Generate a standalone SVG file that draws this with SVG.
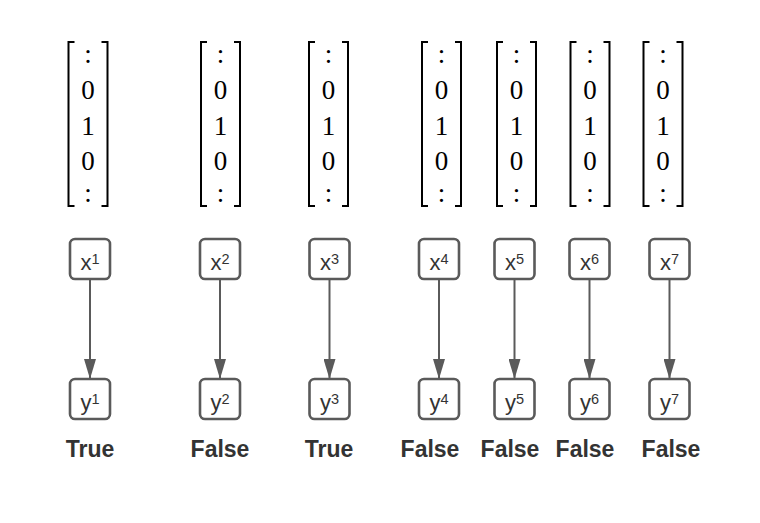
<svg xmlns="http://www.w3.org/2000/svg" width="760" height="523" viewBox="0 0 760 523">
<style>
.br{fill:none;stroke:#000;stroke-width:2}
.mv{font-family:"Liberation Serif",serif;font-size:27px;fill:#000;text-anchor:middle}
.box{fill:#fff;stroke:#5a5a5a;stroke-width:2.6}
.nt{font-family:"Liberation Sans",Arial,sans-serif;font-size:22px;fill:#333333;text-anchor:middle}
.sup{font-size:14.5px}
.lbl{font-family:"Liberation Sans",Arial,sans-serif;font-size:23px;font-weight:bold;fill:#333333;text-anchor:middle}
.edge{stroke:#5a5a5a;stroke-width:2;fill:none}
</style>
<defs>
<marker id="ah" markerUnits="userSpaceOnUse" markerWidth="20" markerHeight="12" refX="20" refY="6" orient="auto" viewBox="0 0 20 12">
<path d="M0,0 L20,6 L0,12 Z" fill="#5a5a5a"/>
</marker>
<g id="mat">
<path class="br" d="M6,42 H0 V206 H6 M33,42 H39 V206 H33"/>
<text class="mv" x="19.5" y="63">:</text>
<text class="mv" x="19.5" y="99">0</text>
<text class="mv" x="19.5" y="135">1</text>
<text class="mv" x="19.5" y="170">0</text>
<text class="mv" x="19.5" y="202">:</text>
</g>
</defs>
<g id="matrices">
<use href="#mat" x="68.5" y="0"/>
<use href="#mat" x="201" y="0"/>
<use href="#mat" x="309" y="0"/>
<use href="#mat" x="422" y="0"/>
<use href="#mat" x="497" y="0"/>
<use href="#mat" x="570.5" y="0"/>
<use href="#mat" x="643.5" y="0"/>
</g>
<g id="connectors">
<line class="edge" x1="90" y1="280" x2="90" y2="379" marker-end="url(#ah)"/>
<line class="edge" x1="220" y1="280" x2="220" y2="379" marker-end="url(#ah)"/>
<line class="edge" x1="329.5" y1="280" x2="329.5" y2="379" marker-end="url(#ah)"/>
<line class="edge" x1="439" y1="280" x2="439" y2="379" marker-end="url(#ah)"/>
<line class="edge" x1="514.5" y1="280" x2="514.5" y2="379" marker-end="url(#ah)"/>
<line class="edge" x1="589.5" y1="280" x2="589.5" y2="379" marker-end="url(#ah)"/>
<line class="edge" x1="669.5" y1="280" x2="669.5" y2="379" marker-end="url(#ah)"/>
</g>
<g id="x1"><rect class="box" x="70" y="239" width="40" height="40" rx="5"/><text class="nt" x="90" y="270">x<tspan class="sup" dy="-6">1</tspan></text></g>
<g id="x2"><rect class="box" x="200" y="239" width="40" height="40" rx="5"/><text class="nt" x="220" y="270">x<tspan class="sup" dy="-6">2</tspan></text></g>
<g id="x3"><rect class="box" x="309.5" y="239" width="40" height="40" rx="5"/><text class="nt" x="329.5" y="270">x<tspan class="sup" dy="-6">3</tspan></text></g>
<g id="x4"><rect class="box" x="419" y="239" width="40" height="40" rx="5"/><text class="nt" x="439" y="270">x<tspan class="sup" dy="-6">4</tspan></text></g>
<g id="x5"><rect class="box" x="494.5" y="239" width="40" height="40" rx="5"/><text class="nt" x="514.5" y="270">x<tspan class="sup" dy="-6">5</tspan></text></g>
<g id="x6"><rect class="box" x="569.5" y="239" width="40" height="40" rx="5"/><text class="nt" x="589.5" y="270">x<tspan class="sup" dy="-6">6</tspan></text></g>
<g id="x7"><rect class="box" x="649.5" y="239" width="40" height="40" rx="5"/><text class="nt" x="669.5" y="270">x<tspan class="sup" dy="-6">7</tspan></text></g>
<g id="y1"><rect class="box" x="70" y="379" width="40" height="40" rx="5"/><text class="nt" x="90" y="410">y<tspan class="sup" dy="-6">1</tspan></text></g>
<g id="y2"><rect class="box" x="200" y="379" width="40" height="40" rx="5"/><text class="nt" x="220" y="410">y<tspan class="sup" dy="-6">2</tspan></text></g>
<g id="y3"><rect class="box" x="309.5" y="379" width="40" height="40" rx="5"/><text class="nt" x="329.5" y="410">y<tspan class="sup" dy="-6">3</tspan></text></g>
<g id="y4"><rect class="box" x="419" y="379" width="40" height="40" rx="5"/><text class="nt" x="439" y="410">y<tspan class="sup" dy="-6">4</tspan></text></g>
<g id="y5"><rect class="box" x="494.5" y="379" width="40" height="40" rx="5"/><text class="nt" x="514.5" y="410">y<tspan class="sup" dy="-6">5</tspan></text></g>
<g id="y6"><rect class="box" x="569.5" y="379" width="40" height="40" rx="5"/><text class="nt" x="589.5" y="410">y<tspan class="sup" dy="-6">6</tspan></text></g>
<g id="y7"><rect class="box" x="649.5" y="379" width="40" height="40" rx="5"/><text class="nt" x="669.5" y="410">y<tspan class="sup" dy="-6">7</tspan></text></g>
<g id="labels">
<text class="lbl" x="90" y="457">True</text>
<text class="lbl" x="220" y="457">False</text>
<text class="lbl" x="329" y="457">True</text>
<text class="lbl" x="430" y="457">False</text>
<text class="lbl" x="510" y="457">False</text>
<text class="lbl" x="585" y="457">False</text>
<text class="lbl" x="671" y="457">False</text>
</g>
</svg>
